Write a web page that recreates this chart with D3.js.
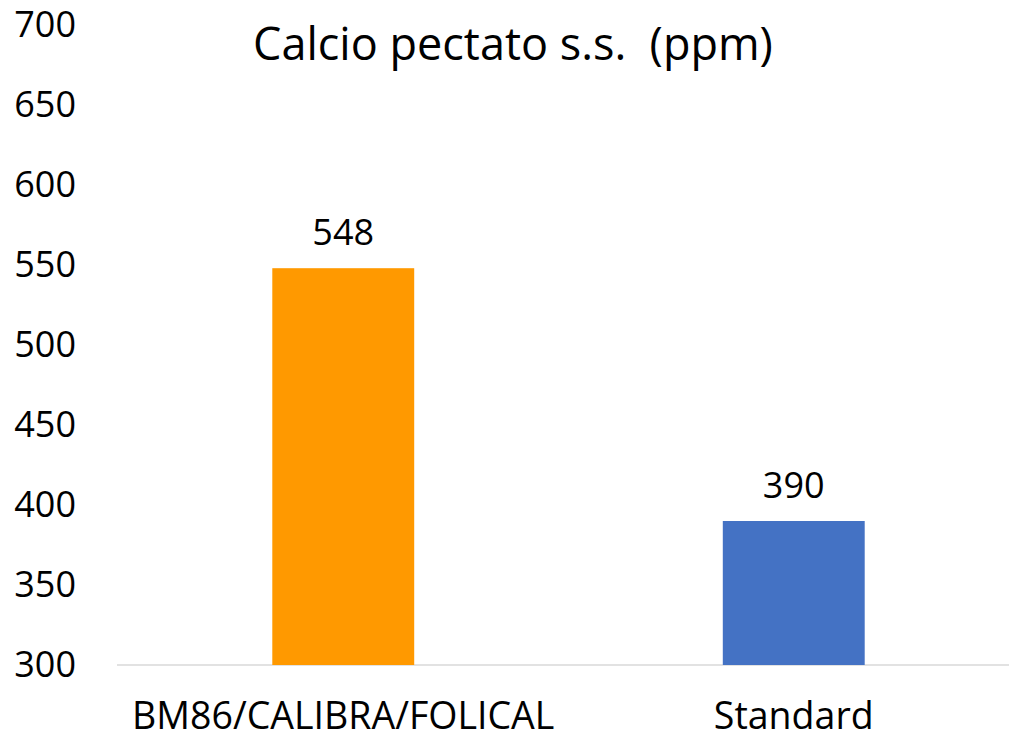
<!DOCTYPE html>
<html>
<head>
<meta charset="utf-8">
<script src="https://cdn.jsdelivr.net/npm/d3@7"></script>
<style>
  body { margin: 0; background: #fff; }
  text { font-family: "Open Sans", sans-serif; fill: #000; }
</style>
</head>
<body>
<div id="chart"></div>
<script>
const categories = ['BM86/CALIBRA/FOLICAL', 'Standard']
const values = [548, 390]
const colors = ['#ff9900', '#4472c4']
const yTicks = [300, 350, 400, 450, 500, 550, 600, 650, 700]
const title = 'Calcio pectato s.s.  (ppm)'

const width = 1009, height = 739
const margin = { top: 25, right: -10, bottom: 74, left: 118 }

const svg = d3.select('#chart').append('svg')
  .attr('width', width)
  .attr('height', height)

const x = d3.scaleBand()
  .domain(categories)
  .range([margin.left, width - margin.right])
  .paddingInner(0.685)
  .paddingOuter(0.3425)

const y = d3.scaleLinear()
  .domain([300, 700])
  .range([height - margin.bottom, margin.top])

// baseline
svg.append('line')
  .attr('x1', margin.left - 1).attr('x2', width)
  .attr('y1', y(300)).attr('y2', y(300))
  .attr('stroke', '#d9d9d9')
  .attr('stroke-width', 1.5)

// y axis labels
const yAxis = svg.append('g')
  .attr('transform', `translate(${margin.left - 42},0)`)
  .call(d3.axisLeft(y).tickValues(yTicks).tickSize(0).tickPadding(0))
yAxis.select('.domain').remove()
yAxis.selectAll('text')
  .attr('font-size', 36)
  .attr('font-family', '"Open Sans", sans-serif')
  .attr('fill', '#000')

// bars
svg.selectAll('.bar')
  .data(values)
  .join('rect')
  .attr('class', 'bar')
  .attr('x', (d, i) => x(categories[i]))
  .attr('width', x.bandwidth())
  .attr('y', d => y(d))
  .attr('height', d => y(300) - y(d))
  .attr('fill', (d, i) => colors[i])

// value labels
svg.selectAll('.val')
  .data(values)
  .join('text')
  .attr('class', 'val')
  .attr('x', (d, i) => x(categories[i]) + x.bandwidth() / 2)
  .attr('y', d => y(d) - 23)
  .attr('text-anchor', 'middle')
  .attr('font-size', 36)
  .text(d => d)

// x axis labels
const xAxis = svg.append('g')
  .attr('transform', `translate(0,${y(300)})`)
  .call(d3.axisBottom(x).tickSize(0).tickPadding(37))
xAxis.select('.domain').remove()
xAxis.selectAll('text')
  .attr('font-size', 37.5)
  .attr('font-family', '"Open Sans", sans-serif')
  .attr('fill', '#000')

// title
svg.append('text')
  .attr('x', 513)
  .attr('y', 60)
  .attr('text-anchor', 'middle')
  .attr('font-size', 45)
  .style('white-space', 'pre')
  .text(title)
</script>
</body>
</html>
